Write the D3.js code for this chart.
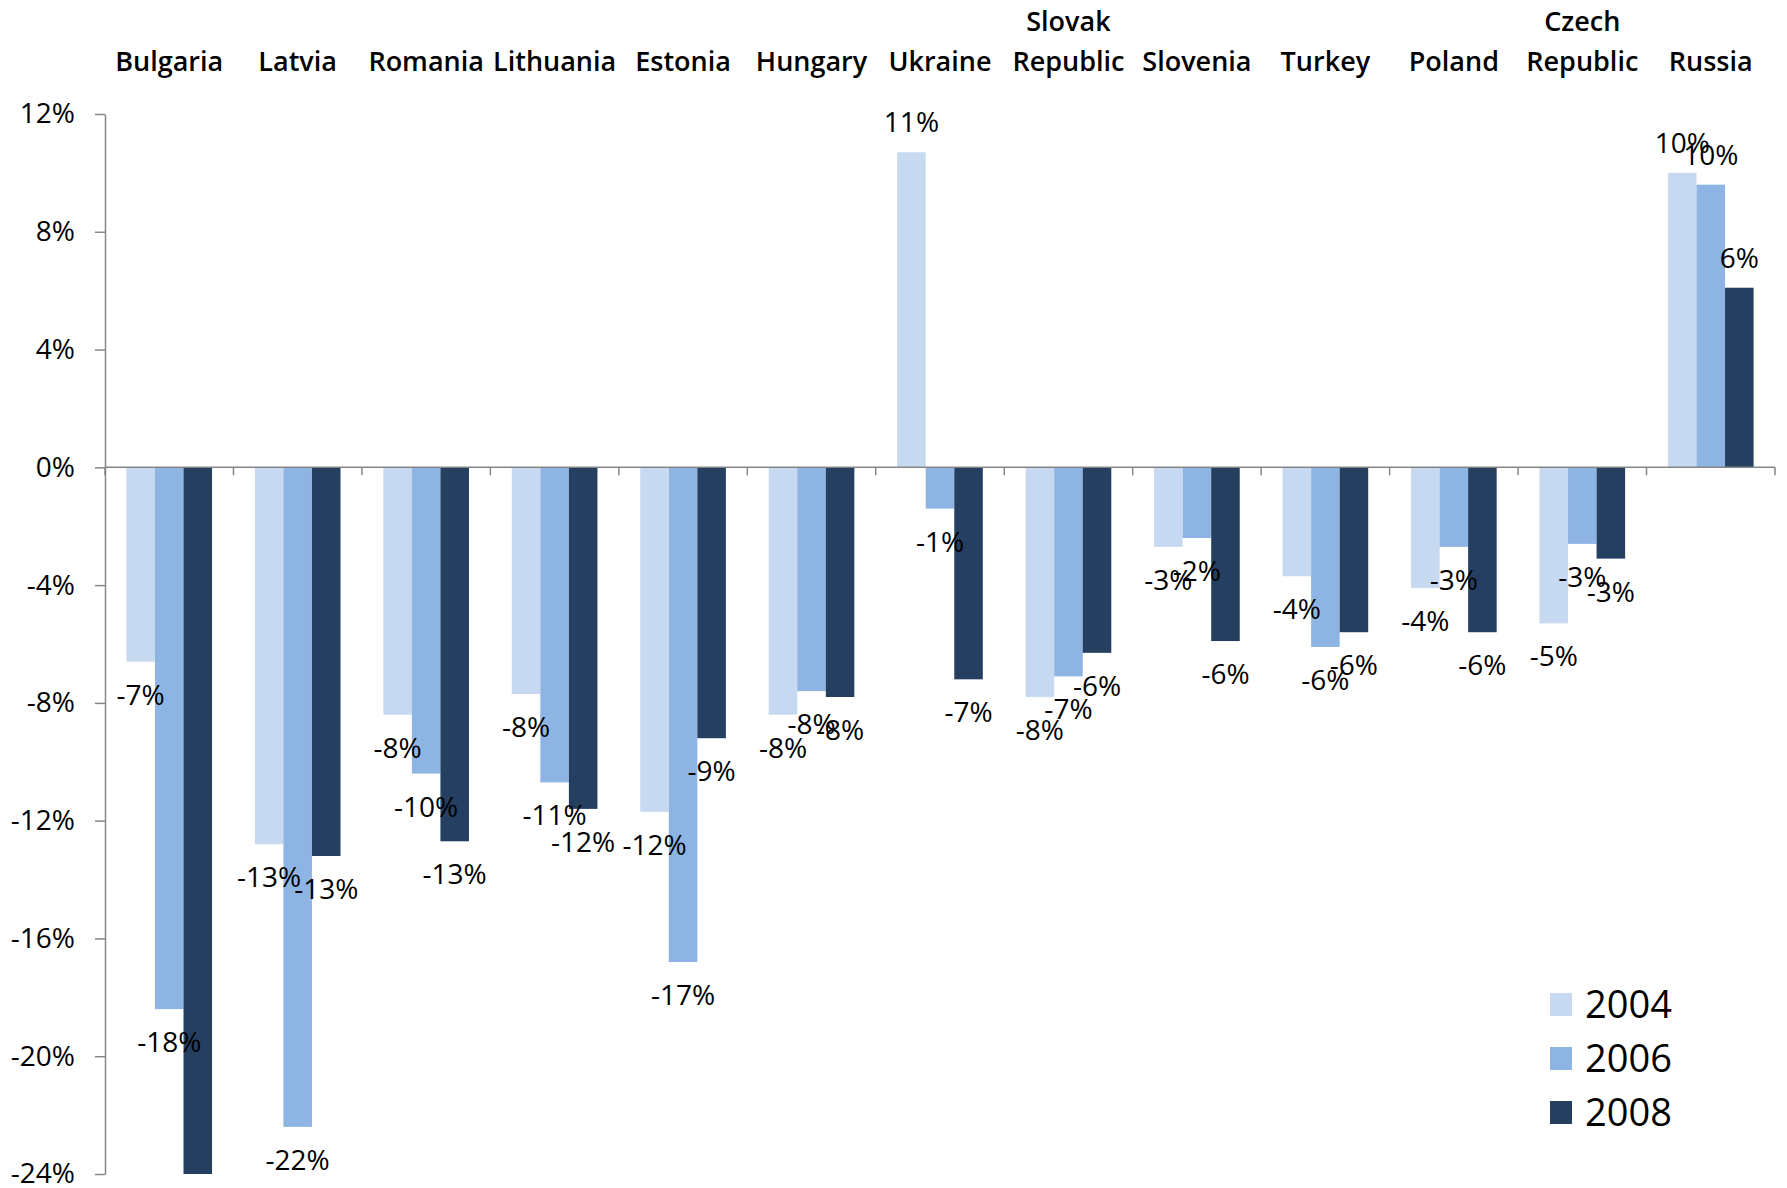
<!DOCTYPE html>
<html>
<head>
<meta charset="utf-8">
<script src="https://cdn.jsdelivr.net/npm/d3@7"></script>
<style>
  html, body { margin: 0; padding: 0; background: #fff; }
  svg { display: block; }
  text { font-family: "Open Sans", "Liberation Sans", sans-serif; fill: #000; }
</style>
</head>
<body>
<svg id="chart" width="1787" height="1188"></svg>
<script>
// Change in value, per country, for three years (percent)
const categories = ["Bulgaria", "Latvia", "Romania", "Lithuania", "Estonia", "Hungary",
  "Ukraine", "Slovak Republic", "Slovenia", "Turkey", "Poland", "Czech Republic", "Russia"];
const years = ["2004", "2006", "2008"];
const values2004 = [-6.6, -12.8, -8.4, -7.7, -11.7, -8.4, 10.7, -7.8, -2.7, -3.7, -4.1, -5.3, 10.0];
const values2006 = [-18.4, -22.4, -10.4, -10.7, -16.8, -7.6, -1.4, -7.1, -2.4, -6.1, -2.7, -2.6, 9.6];
const values2008 = [-24.0, -13.2, -12.7, -11.6, -9.2, -7.8, -7.2, -6.3, -5.9, -5.6, -5.6, -3.1, 6.1];
const yTicks = [12, 8, 4, 0, -4, -8, -12, -16, -20, -24];
const colors = ["#C6D9F1", "#8EB4E3", "#243F60"];

const seriesValues = [values2004, values2006, values2008];
const rows = categories.map((c, i) => ({
  category: c,
  bars: years.map((yr, j) => ({ year: yr, value: seriesValues[j][i], color: colors[j] }))
}));

const svg = d3.select("#chart");
const plotLeft = 105, plotRight = 1775, plotTop = 114, plotBottom = 1174;

const x0 = d3.scaleBand().domain(categories).range([plotLeft, plotRight]).padding(0);
const x1 = d3.scaleBand().domain(years).range([0, x0.bandwidth()])
  .paddingInner(0).paddingOuter(0.75);
const y = d3.scaleLinear().domain([-24, 12]).range([plotBottom, plotTop]);

// Plain hyphen as the minus sign
const locale = d3.formatLocale({ decimal: ".", thousands: ",", grouping: [3],
  currency: ["", ""], minus: "-" });
const fmtNum = locale.format(".0f");
const fmt = v => fmtNum(v) + "%";

// Bars
const groups = svg.append("g").selectAll("g")
  .data(rows).join("g")
  .attr("transform", d => `translate(${x0(d.category)},0)`);

groups.selectAll("rect")
  .data(d => d.bars).join("rect")
  .attr("x", d => x1(d.year))
  .attr("width", x1.bandwidth())
  .attr("y", d => y(Math.max(0, d.value)))
  .attr("height", d => Math.abs(y(d.value) - y(0)))
  .attr("fill", d => d.color);

// Y axis
const yAxis = svg.append("g")
  .attr("transform", `translate(${plotLeft},0)`)
  .call(d3.axisLeft(y).tickValues(yTicks).tickFormat(fmt)
    .tickSize(10).tickSizeOuter(0).tickPadding(20));
yAxis.select(".domain").attr("stroke", "#868686").attr("stroke-width", 1.5);
yAxis.selectAll(".tick line").attr("stroke", "#868686").attr("stroke-width", 1.5);
yAxis.selectAll(".tick text")
  .attr("font-size", 28)
  .attr("font-family", "'Open Sans', sans-serif")
  .attr("fill", "#000");

// Zero line with category boundary ticks
const zero = svg.append("g").attr("stroke", "#868686").attr("stroke-width", 1.5);
zero.append("line")
  .attr("x1", plotLeft).attr("x2", plotRight)
  .attr("y1", y(0)).attr("y2", y(0));
const boundaries = categories.map(c => x0(c)).concat([x0.range()[1]]);
zero.selectAll("line.bt")
  .data(boundaries).join("line").attr("class", "bt")
  .attr("x1", d => d).attr("x2", d => d)
  .attr("y1", y(0)).attr("y2", y(0) + 8);

// Value labels
groups.selectAll("text.val")
  .data(d => d.bars).join("text").attr("class", "val")
  .attr("x", d => x1(d.year) + x1.bandwidth() / 2)
  .attr("y", d => d.value >= 0 ? y(d.value) - 30 : y(d.value) + 33)
  .attr("dy", "0.36em")
  .attr("text-anchor", "middle")
  .attr("font-size", 28)
  .text(d => fmt(d.value));

// Category labels along the top
const catLabels = svg.append("g").selectAll("text")
  .data(categories).join("text")
  .attr("text-anchor", "middle")
  .attr("font-size", 27)
  .attr("font-weight", 600)
  .attr("x", d => x0(d) + x0.bandwidth() / 2)
  .attr("y", 71);
catLabels.each(function (d) {
  const words = d.split(" ");
  const t = d3.select(this);
  words.forEach((w, i) => {
    t.append("tspan")
      .attr("x", x0(d) + x0.bandwidth() / 2)
      .attr("y", 71 - (words.length - 1 - i) * 40)
      .text(w);
  });
});

// Legend
const legend = svg.append("g").attr("transform", "translate(1550,993)");
const items = legend.selectAll("g").data(years).join("g")
  .attr("transform", (d, i) => `translate(0,${i * 54})`);
items.append("rect").attr("width", 22).attr("height", 23)
  .attr("fill", (d, i) => colors[i]);
items.append("text").attr("x", 35).attr("y", 11.5).attr("dy", "0.36em")
  .attr("font-size", 38).text(d => d);
</script>
</body>
</html>
